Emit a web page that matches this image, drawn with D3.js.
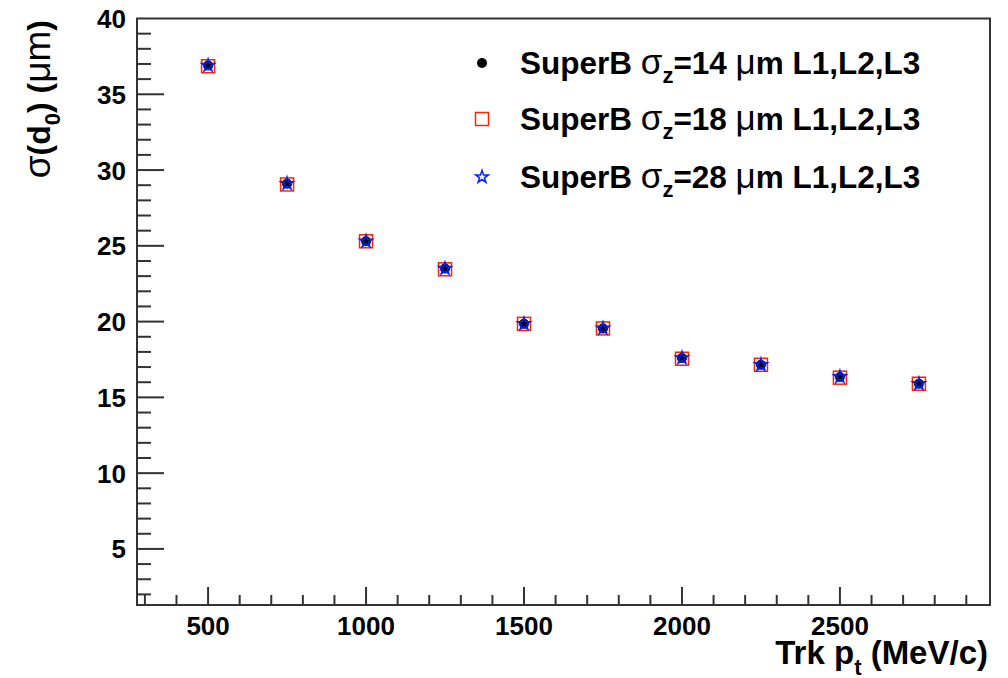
<!DOCTYPE html>
<html>
<head>
<meta charset="utf-8">
<script src="https://cdn.jsdelivr.net/npm/d3@7"></script>
<style>
  body { margin: 0; background: #fff; }
  text { font-family: "Liberation Sans", Arial, sans-serif; }
</style>
</head>
<body>
<div id="chart"></div>
<script>
// track pt values (MeV/c)
var ptValues = [500, 750, 1000, 1250, 1500, 1750, 2000, 2250, 2500, 2750];
// sigma(d0) in um for each sigma_z configuration
var sigmaZ14 = [36.9, 29.1, 25.3, 23.5, 19.85, 19.55, 17.6, 17.15, 16.35, 15.9];
var sigmaZ18 = [36.85, 29.05, 25.3, 23.45, 19.85, 19.55, 17.55, 17.15, 16.3, 15.9];
var sigmaZ28 = [36.9, 29.1, 25.3, 23.5, 19.85, 19.55, 17.6, 17.15, 16.35, 15.9];
var seriesNames = ['14', '18', '28'];
var xTicks = [500, 1000, 1500, 2000, 2500];
var yTicks = [5, 10, 15, 20, 25, 30, 35, 40];

var W = 1008, H = 678;
var pLeft = 137, pRight = 990, pTop = 18.5, pBottom = 605;

var svg = d3.select('#chart').append('svg')
  .attr('width', W).attr('height', H);
svg.append('rect').attr('width', W).attr('height', H).attr('fill', '#fff');

var x = d3.scaleLinear().domain([275, 2975]).range([pLeft, pRight]);
var y = d3.scaleLinear().domain([1.3, 40]).range([pBottom, pTop]);

var axisCol = '#333';

// frame
svg.append('rect')
  .attr('x', pLeft).attr('y', pTop)
  .attr('width', pRight - pLeft).attr('height', pBottom - pTop)
  .attr('fill', 'none').attr('stroke', axisCol).attr('stroke-width', 2);

// x minor + major ticks
var xMinor = d3.range(300, 2975, 100);
svg.append('g').selectAll('line').data(xMinor).enter().append('line')
  .attr('x1', function(d){ return x(d); }).attr('x2', function(d){ return x(d); })
  .attr('y1', pBottom).attr('y2', function(d){ return d % 500 == 0 ? pBottom - 18 : pBottom - 10; })
  .attr('stroke', axisCol).attr('stroke-width', 2);

svg.append('g').selectAll('text').data(xTicks).enter().append('text')
  .attr('x', function(d){ return x(d); }).attr('y', 635)
  .attr('text-anchor', 'middle').attr('font-size', 26).attr('font-weight', 'bold')
  .text(function(d){ return d; });

// y minor + major ticks
var yMinor = d3.range(2, 40, 1);
svg.append('g').selectAll('line').data(yMinor).enter().append('line')
  .attr('x1', pLeft).attr('x2', function(d){ return d % 5 == 0 ? pLeft + 27 : pLeft + 14; })
  .attr('y1', function(d){ return y(d); }).attr('y2', function(d){ return y(d); })
  .attr('stroke', axisCol).attr('stroke-width', 2);

svg.append('g').selectAll('text').data(yTicks).enter().append('text')
  .attr('x', 126).attr('y', function(d){ return y(d) + 9.5; })
  .attr('text-anchor', 'end').attr('font-size', 26).attr('font-weight', 'bold')
  .text(function(d){ return d; });

// axis titles
var xt = svg.append('text').attr('x', 988).attr('y', 664)
  .attr('text-anchor', 'end').attr('font-size', 33).attr('font-weight', 'bold');
xt.append('tspan').text('Trk p');
xt.append('tspan').attr('font-size', 22).attr('dy', 11).text('t');
xt.append('tspan').attr('dy', -11).text(' (MeV/c)');

var yt = svg.append('text').attr('transform', 'translate(50,20) rotate(-90)')
  .attr('text-anchor', 'end').attr('font-size', 32).attr('font-weight', 'bold');
yt.append('tspan').attr('font-weight', 'normal').attr('font-size', 37).text('σ');
yt.append('tspan').text('(d');
yt.append('tspan').attr('font-size', 22).attr('dy', 10).text('0');
yt.append('tspan').attr('dy', -10).text(') (');
yt.append('tspan').attr('font-weight', 'normal').attr('font-size', 37).text('μm');
yt.append('tspan').text(')');

// markers
function drawMarker(g, kind, cx, cy) {
  if (kind == 0) {
    g.append('circle').attr('cx', cx).attr('cy', cy).attr('r', 5).attr('fill', '#000');
  } else if (kind == 1) {
    g.append('rect').attr('x', cx - 6.5).attr('y', cy - 6.5).attr('width', 13).attr('height', 13)
      .attr('fill', 'none').attr('stroke', '#ff2200').attr('stroke-width', 1.5);
  } else {
    g.append('path').attr('d', d3.symbol().type(d3.symbolStar).size(50)())
      .attr('transform', 'translate(' + cx + ',' + cy + ')')
      .attr('fill', 'none').attr('stroke', '#0022ff').attr('stroke-width', 1.5);
  }
}

var allSeries = [sigmaZ18, sigmaZ14, sigmaZ28];
var kinds = [1, 0, 2];
var pts = svg.append('g');
allSeries.forEach(function(vals, si){
  vals.forEach(function(v, i){
    drawMarker(pts, kinds[si], x(ptValues[i]), y(v));
  });
});

// legend
var legY = [63, 119, 177];
seriesNames.forEach(function(n, i){
  drawMarker(svg, i, 482, legY[i]);
  var t = svg.append('text').attr('x', 520).attr('y', legY[i] + 11)
    .attr('font-size', 31.5).attr('font-weight', 'bold');
  t.append('tspan').text('SuperB ');
  t.append('tspan').attr('font-weight', 'normal').attr('font-size', 35).text('σ');
  t.append('tspan').attr('font-size', 22).attr('dy', 9).text('z');
  t.append('tspan').attr('dy', -9).text('=' + n + ' ');
  t.append('tspan').attr('font-weight', 'normal').attr('font-size', 35).text('μ');
  t.append('tspan').text('m L1,L2,L3');
});
</script>
</body>
</html>
